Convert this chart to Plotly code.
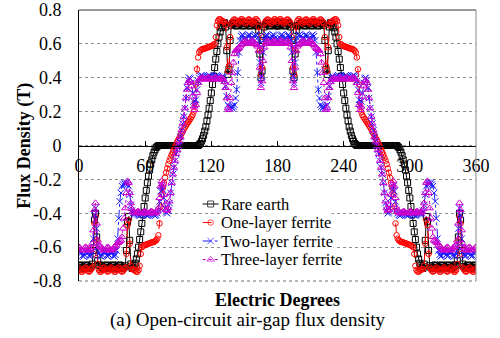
import plotly.graph_objects as go

# Sample grid in electrical degrees (1 degree steps)
degrees = list(range(0, 361))

rare_earth = [
    -0.71, -0.705, -0.71, -0.72, -0.725, -0.72, -0.71, -0.705, -0.71, -0.72,
    -0.725, -0.715, -0.70, -0.62, -0.44, -0.40, -0.54, -0.68, -0.71, -0.705,
    -0.71, -0.72, -0.725, -0.72, -0.71, -0.705, -0.71, -0.72, -0.725, -0.72,
    -0.71, -0.705, -0.71, -0.72, -0.725, -0.72, -0.71, -0.705, -0.71, -0.72,
    -0.725, -0.72, -0.71, -0.62, -0.45, -0.42, -0.56, -0.70, -0.725, -0.72,
    -0.71, -0.695, -0.67, -0.64, -0.60, -0.555, -0.51, -0.46, -0.41, -0.36,
    -0.31, -0.265, -0.22, -0.18, -0.145, -0.11, -0.085, -0.06, -0.04, -0.025,
    -0.012, -0.005, 0, 0, 0, 0, 0, 0, 0, 0,
    0, 0, 0, 0, 0, 0, 0, 0, 0, 0,
    0, 0, 0, 0, 0, 0, 0, 0, 0, 0,
    0, 0, 0, 0, 0, 0, 0, 0, 0, 0.005,
    0.012, 0.025, 0.04, 0.06, 0.085, 0.11, 0.145, 0.18, 0.22, 0.265,
    0.31, 0.36, 0.41, 0.46, 0.51, 0.555, 0.60, 0.64, 0.67, 0.695,
    0.71, 0.72, 0.725, 0.70, 0.56, 0.42, 0.45, 0.62, 0.71, 0.72,
    0.725, 0.72, 0.71, 0.705, 0.71, 0.72, 0.725, 0.72, 0.71, 0.705,
    0.71, 0.72, 0.725, 0.72, 0.71, 0.705, 0.71, 0.72, 0.725, 0.72,
    0.71, 0.705, 0.71, 0.68, 0.54, 0.40, 0.44, 0.62, 0.70, 0.715,
    0.725, 0.72, 0.71, 0.705, 0.71, 0.72, 0.725, 0.72, 0.71, 0.705,
    0.71, 0.705, 0.71, 0.72, 0.725, 0.72, 0.71, 0.705, 0.71, 0.72,
    0.725, 0.715, 0.70, 0.62, 0.44, 0.40, 0.54, 0.68, 0.71, 0.705,
    0.71, 0.72, 0.725, 0.72, 0.71, 0.705, 0.71, 0.72, 0.725, 0.72,
    0.71, 0.705, 0.71, 0.72, 0.725, 0.72, 0.71, 0.705, 0.71, 0.72,
    0.725, 0.72, 0.71, 0.62, 0.45, 0.42, 0.56, 0.70, 0.725, 0.72,
    0.71, 0.695, 0.67, 0.64, 0.60, 0.555, 0.51, 0.46, 0.41, 0.36,
    0.31, 0.265, 0.22, 0.18, 0.145, 0.11, 0.085, 0.06, 0.04, 0.025,
    0.012, 0.005, 0, 0, 0, 0, 0, 0, 0, 0,
    0, 0, 0, 0, 0, 0, 0, 0, 0, 0,
    0, 0, 0, 0, 0, 0, 0, 0, 0, 0,
    0, 0, 0, 0, 0, 0, 0, 0, 0, -0.005,
    -0.012, -0.025, -0.04, -0.06, -0.085, -0.11, -0.145, -0.18, -0.22, -0.265,
    -0.31, -0.36, -0.41, -0.46, -0.51, -0.555, -0.60, -0.64, -0.67, -0.695,
    -0.71, -0.72, -0.725, -0.70, -0.56, -0.42, -0.45, -0.62, -0.71, -0.72,
    -0.725, -0.72, -0.71, -0.705, -0.71, -0.72, -0.725, -0.72, -0.71, -0.705,
    -0.71, -0.72, -0.725, -0.72, -0.71, -0.705, -0.71, -0.72, -0.725, -0.72,
    -0.71, -0.705, -0.71, -0.68, -0.54, -0.40, -0.44, -0.62, -0.70, -0.715,
    -0.725, -0.72, -0.71, -0.705, -0.71, -0.72, -0.725, -0.72, -0.71, -0.705,
    -0.71,
]

one_layer = [
    -0.725, -0.735, -0.745, -0.745, -0.735, -0.725, -0.72, -0.73, -0.74, -0.745,
    -0.74, -0.73, -0.72, -0.64, -0.46, -0.42, -0.56, -0.70, -0.735, -0.745,
    -0.745, -0.735, -0.725, -0.72, -0.73, -0.74, -0.745, -0.74, -0.73, -0.72,
    -0.725, -0.735, -0.745, -0.745, -0.735, -0.725, -0.72, -0.73, -0.74, -0.745,
    -0.74, -0.73, -0.72, -0.64, -0.47, -0.44, -0.58, -0.71, -0.73, -0.73,
    -0.735, -0.74, -0.745, -0.745, -0.735, -0.71, -0.64, -0.60, -0.595, -0.59,
    -0.587, -0.585, -0.582, -0.58, -0.577, -0.575, -0.572, -0.57, -0.57, -0.565,
    -0.56, -0.55, -0.53, -0.46, -0.36, -0.29, -0.25, -0.22, -0.19, -0.16,
    -0.135, -0.11, -0.09, -0.072, -0.055, -0.04, -0.025, -0.01, 0.005, 0.02,
    0.033, 0.045, 0.06, 0.07, 0.082, 0.095, 0.107, 0.118, 0.128, 0.138,
    0.148, 0.158, 0.168, 0.18, 0.20, 0.25, 0.36, 0.45, 0.52, 0.55,
    0.56, 0.565, 0.57, 0.57, 0.572, 0.575, 0.577, 0.58, 0.582, 0.585,
    0.587, 0.59, 0.595, 0.60, 0.64, 0.71, 0.735, 0.745, 0.745, 0.74,
    0.735, 0.73, 0.73, 0.71, 0.58, 0.44, 0.47, 0.64, 0.72, 0.73,
    0.74, 0.745, 0.74, 0.73, 0.72, 0.725, 0.735, 0.745, 0.745, 0.735,
    0.725, 0.72, 0.73, 0.74, 0.745, 0.74, 0.73, 0.72, 0.725, 0.735,
    0.745, 0.745, 0.735, 0.70, 0.56, 0.42, 0.46, 0.64, 0.72, 0.73,
    0.74, 0.745, 0.74, 0.73, 0.72, 0.725, 0.735, 0.745, 0.745, 0.735,
    0.725, 0.735, 0.745, 0.745, 0.735, 0.725, 0.72, 0.73, 0.74, 0.745,
    0.74, 0.73, 0.72, 0.64, 0.46, 0.42, 0.56, 0.70, 0.735, 0.745,
    0.745, 0.735, 0.725, 0.72, 0.73, 0.74, 0.745, 0.74, 0.73, 0.72,
    0.725, 0.735, 0.745, 0.745, 0.735, 0.725, 0.72, 0.73, 0.74, 0.745,
    0.74, 0.73, 0.72, 0.64, 0.47, 0.44, 0.58, 0.71, 0.73, 0.73,
    0.735, 0.74, 0.745, 0.745, 0.735, 0.71, 0.64, 0.60, 0.595, 0.59,
    0.587, 0.585, 0.582, 0.58, 0.577, 0.575, 0.572, 0.57, 0.57, 0.565,
    0.56, 0.55, 0.52, 0.45, 0.36, 0.25, 0.20, 0.18, 0.168, 0.158,
    0.148, 0.138, 0.128, 0.118, 0.107, 0.095, 0.082, 0.07, 0.06, 0.045,
    0.033, 0.02, 0.005, -0.01, -0.025, -0.04, -0.055, -0.072, -0.09, -0.11,
    -0.135, -0.16, -0.19, -0.22, -0.25, -0.29, -0.36, -0.46, -0.53, -0.55,
    -0.56, -0.565, -0.57, -0.57, -0.572, -0.575, -0.577, -0.58, -0.582, -0.585,
    -0.587, -0.59, -0.595, -0.60, -0.64, -0.71, -0.735, -0.745, -0.745, -0.74,
    -0.735, -0.73, -0.73, -0.71, -0.58, -0.44, -0.47, -0.64, -0.72, -0.73,
    -0.74, -0.745, -0.74, -0.73, -0.72, -0.725, -0.735, -0.745, -0.745, -0.735,
    -0.725, -0.72, -0.73, -0.74, -0.745, -0.74, -0.73, -0.72, -0.725, -0.735,
    -0.745, -0.745, -0.735, -0.70, -0.56, -0.42, -0.46, -0.64, -0.72, -0.73,
    -0.74, -0.745, -0.74, -0.73, -0.72, -0.725, -0.735, -0.745, -0.745, -0.735,
    -0.725,
]

two_layer = [
    -0.63, -0.625, -0.635, -0.65, -0.655, -0.645, -0.63, -0.625, -0.635, -0.65,
    -0.655, -0.645, -0.625, -0.55, -0.41, -0.37, -0.49, -0.60, -0.635, -0.65,
    -0.655, -0.645, -0.63, -0.625, -0.635, -0.65, -0.655, -0.645, -0.63, -0.625,
    -0.635, -0.65, -0.655, -0.645, -0.62, -0.55, -0.43, -0.33, -0.28, -0.24,
    -0.23, -0.22, -0.23, -0.22, -0.23, -0.24, -0.29, -0.35, -0.385, -0.40,
    -0.405, -0.40, -0.40, -0.405, -0.41, -0.415, -0.41, -0.405, -0.40, -0.40,
    -0.405, -0.41, -0.415, -0.41, -0.405, -0.40, -0.40, -0.405, -0.41, -0.415,
    -0.41, -0.40, -0.38, -0.33, -0.27, -0.24, -0.26, -0.31, -0.37, -0.395,
    -0.40, -0.385, -0.34, -0.28, -0.22, -0.17, -0.13, -0.09, -0.05, -0.025,
    0, 0.025, 0.05, 0.09, 0.13, 0.17, 0.22, 0.28, 0.34, 0.385,
    0.40, 0.395, 0.37, 0.31, 0.26, 0.24, 0.27, 0.33, 0.38, 0.40,
    0.41, 0.415, 0.41, 0.405, 0.40, 0.40, 0.405, 0.41, 0.415, 0.41,
    0.405, 0.40, 0.40, 0.405, 0.41, 0.415, 0.41, 0.405, 0.40, 0.40,
    0.405, 0.40, 0.385, 0.35, 0.29, 0.24, 0.23, 0.22, 0.23, 0.22,
    0.23, 0.24, 0.28, 0.33, 0.43, 0.55, 0.62, 0.645, 0.655, 0.65,
    0.635, 0.625, 0.63, 0.645, 0.655, 0.65, 0.635, 0.625, 0.63, 0.645,
    0.655, 0.65, 0.635, 0.60, 0.49, 0.37, 0.41, 0.55, 0.625, 0.645,
    0.655, 0.65, 0.635, 0.625, 0.63, 0.645, 0.655, 0.65, 0.635, 0.625,
    0.63, 0.625, 0.635, 0.65, 0.655, 0.645, 0.63, 0.625, 0.635, 0.65,
    0.655, 0.645, 0.625, 0.55, 0.41, 0.37, 0.49, 0.60, 0.635, 0.65,
    0.655, 0.645, 0.63, 0.625, 0.635, 0.65, 0.655, 0.645, 0.63, 0.625,
    0.635, 0.65, 0.655, 0.645, 0.62, 0.55, 0.43, 0.33, 0.28, 0.24,
    0.23, 0.22, 0.23, 0.22, 0.23, 0.24, 0.29, 0.35, 0.385, 0.40,
    0.405, 0.40, 0.40, 0.405, 0.41, 0.415, 0.41, 0.405, 0.40, 0.40,
    0.405, 0.41, 0.415, 0.41, 0.405, 0.40, 0.40, 0.405, 0.41, 0.415,
    0.41, 0.40, 0.38, 0.33, 0.27, 0.24, 0.26, 0.31, 0.37, 0.395,
    0.40, 0.385, 0.34, 0.28, 0.22, 0.17, 0.13, 0.09, 0.05, 0.025,
    0, -0.025, -0.05, -0.09, -0.13, -0.17, -0.22, -0.28, -0.34, -0.385,
    -0.40, -0.395, -0.37, -0.31, -0.26, -0.24, -0.27, -0.33, -0.38, -0.40,
    -0.41, -0.415, -0.41, -0.405, -0.40, -0.40, -0.405, -0.41, -0.415, -0.41,
    -0.405, -0.40, -0.40, -0.405, -0.41, -0.415, -0.41, -0.405, -0.40, -0.40,
    -0.405, -0.40, -0.385, -0.35, -0.29, -0.24, -0.23, -0.22, -0.23, -0.22,
    -0.23, -0.24, -0.28, -0.33, -0.43, -0.55, -0.62, -0.645, -0.655, -0.65,
    -0.635, -0.625, -0.63, -0.645, -0.655, -0.65, -0.635, -0.625, -0.63, -0.645,
    -0.655, -0.65, -0.635, -0.60, -0.49, -0.37, -0.41, -0.55, -0.625, -0.645,
    -0.655, -0.65, -0.635, -0.625, -0.63, -0.645, -0.655, -0.65, -0.635, -0.625,
    -0.63,
]

three_layer = [
    -0.60, -0.605, -0.615, -0.62, -0.615, -0.605, -0.60, -0.605, -0.615, -0.62,
    -0.61, -0.60, -0.58, -0.50, -0.38, -0.34, -0.46, -0.56, -0.585, -0.595,
    -0.60, -0.605, -0.615, -0.62, -0.615, -0.605, -0.60, -0.605, -0.615, -0.62,
    -0.615, -0.61, -0.60, -0.595, -0.585, -0.575, -0.57, -0.565, -0.56, -0.54,
    -0.49, -0.43, -0.37, -0.28, -0.21, -0.22, -0.28, -0.34, -0.375, -0.39,
    -0.395, -0.40, -0.395, -0.39, -0.39, -0.395, -0.40, -0.40, -0.395, -0.39,
    -0.39, -0.395, -0.40, -0.40, -0.395, -0.39, -0.39, -0.395, -0.40, -0.40,
    -0.395, -0.39, -0.37, -0.31, -0.24, -0.21, -0.23, -0.29, -0.35, -0.38,
    -0.385, -0.37, -0.33, -0.28, -0.22, -0.17, -0.13, -0.09, -0.05, -0.025,
    0, 0.025, 0.05, 0.09, 0.13, 0.17, 0.22, 0.28, 0.33, 0.37,
    0.385, 0.38, 0.35, 0.29, 0.23, 0.21, 0.24, 0.31, 0.37, 0.39,
    0.395, 0.40, 0.40, 0.395, 0.39, 0.39, 0.395, 0.40, 0.40, 0.395,
    0.39, 0.39, 0.395, 0.40, 0.40, 0.395, 0.39, 0.39, 0.395, 0.40,
    0.395, 0.39, 0.375, 0.34, 0.28, 0.22, 0.21, 0.28, 0.37, 0.43,
    0.49, 0.54, 0.56, 0.565, 0.57, 0.575, 0.585, 0.595, 0.60, 0.61,
    0.615, 0.62, 0.615, 0.605, 0.60, 0.605, 0.615, 0.62, 0.615, 0.605,
    0.60, 0.595, 0.585, 0.56, 0.46, 0.34, 0.38, 0.50, 0.58, 0.60,
    0.61, 0.62, 0.615, 0.605, 0.60, 0.605, 0.615, 0.62, 0.615, 0.605,
    0.60, 0.605, 0.615, 0.62, 0.615, 0.605, 0.60, 0.605, 0.615, 0.62,
    0.61, 0.60, 0.58, 0.50, 0.38, 0.34, 0.46, 0.56, 0.585, 0.595,
    0.60, 0.605, 0.615, 0.62, 0.615, 0.605, 0.60, 0.605, 0.615, 0.62,
    0.615, 0.61, 0.60, 0.595, 0.585, 0.575, 0.57, 0.565, 0.56, 0.54,
    0.49, 0.43, 0.37, 0.28, 0.21, 0.22, 0.28, 0.34, 0.375, 0.39,
    0.395, 0.40, 0.395, 0.39, 0.39, 0.395, 0.40, 0.40, 0.395, 0.39,
    0.39, 0.395, 0.40, 0.40, 0.395, 0.39, 0.39, 0.395, 0.40, 0.40,
    0.395, 0.39, 0.37, 0.31, 0.24, 0.21, 0.23, 0.29, 0.35, 0.38,
    0.385, 0.37, 0.33, 0.28, 0.22, 0.17, 0.13, 0.09, 0.05, 0.025,
    0, -0.025, -0.05, -0.09, -0.13, -0.17, -0.22, -0.28, -0.33, -0.37,
    -0.385, -0.38, -0.35, -0.29, -0.23, -0.21, -0.24, -0.31, -0.37, -0.39,
    -0.395, -0.40, -0.40, -0.395, -0.39, -0.39, -0.395, -0.40, -0.40, -0.395,
    -0.39, -0.39, -0.395, -0.40, -0.40, -0.395, -0.39, -0.39, -0.395, -0.40,
    -0.395, -0.39, -0.375, -0.34, -0.28, -0.22, -0.21, -0.28, -0.37, -0.43,
    -0.49, -0.54, -0.56, -0.565, -0.57, -0.575, -0.585, -0.595, -0.60, -0.61,
    -0.615, -0.62, -0.615, -0.605, -0.60, -0.605, -0.615, -0.62, -0.615, -0.605,
    -0.60, -0.595, -0.585, -0.56, -0.46, -0.34, -0.38, -0.50, -0.58, -0.60,
    -0.61, -0.62, -0.615, -0.605, -0.60, -0.605, -0.615, -0.62, -0.615, -0.605,
    -0.60,
]

series_names = ["Rare earth", "One-layer ferrite", "Two-layer ferrite", "Three-layer ferrite"]

x_tick_vals = [0, 60, 120, 180, 240, 300, 360]
x_tick_text = ["0", "60", "120", "180", "240", "300", "360"]
y_tick_vals = [0.8, 0.6, 0.4, 0.2, 0, -0.2, -0.4, -0.6, -0.8]
y_tick_text = ["0.8", "0.6", "0.4", "0.2", "0", "-0.2", "-0.4", "-0.6", "-0.8"]

SERIF = "Liberation Serif, Times New Roman, serif"

styles = [
    dict(color="#000000", dash="solid", symbol="square-open", size=6),
    dict(color="#ff0000", dash="dash", symbol="circle-open", size=5.5),
    dict(color="#1a1aff", dash="dashdot", symbol="x-thin-open", size=6.5),
    dict(color="#cc00cc", dash="dot", symbol="triangle-up-open", size=6.5),
]

fig = go.Figure()

for name, values, st in zip(series_names,
                            [rare_earth, one_layer, two_layer, three_layer],
                            styles):
    fig.add_trace(go.Scatter(
        x=degrees, y=values, mode="lines+markers", name=name, showlegend=False,
        line=dict(color=st["color"], width=1, dash=st["dash"]),
        marker=dict(symbol=st["symbol"], size=st["size"], color=st["color"],
                    line=dict(color=st["color"], width=1)),
    ))

# Hand-placed legend: key glyphs on an overlay axis spanning the plot area
key_x = [0.3115, 0.3316, 0.3516]
row_y = [0.2841, 0.2159, 0.1476, 0.0793]
text_x = 0.3559

annotations = []
for name, st, ry in zip(series_names, styles, row_y):
    fig.add_trace(go.Scatter(
        x=key_x, y=[ry, ry, ry], xaxis="x2", yaxis="y2", mode="lines+markers",
        showlegend=False, hoverinfo="skip",
        line=dict(color=st["color"], width=1, dash=st["dash"]),
        marker=dict(symbol=st["symbol"], size=[0, st["size"], 0], color=st["color"],
                    line=dict(color=st["color"], width=1)),
    ))
    annotations.append(dict(
        text=name, x=text_x, y=ry, xref="paper", yref="paper",
        xanchor="left", yanchor="middle", showarrow=False,
        bgcolor="white", borderpad=0,
        font=dict(family=SERIF, size=16.5, color="black"),
    ))

annotations += [
    dict(text="<b>Electric Degrees</b>", x=0.5, y=-0.0683, xref="paper", yref="paper",
         xanchor="center", yanchor="middle", showarrow=False,
         font=dict(family=SERIF, size=18, color="black")),
    dict(text="(a) Open-circuit air-gap flux density", x=0.426, y=-0.1439,
         xref="paper", yref="paper", xanchor="center", yanchor="middle",
         showarrow=False, font=dict(family=SERIF, size=19, color="black")),
    dict(text="<b>Flux Density (T)</b>", x=-0.1378, y=0.5, xref="paper", yref="paper",
         xanchor="center", yanchor="middle", textangle=-90, showarrow=False,
         font=dict(family=SERIF, size=18, color="black")),
]

shapes = [
    # white patch behind the legend keys
    dict(type="rect", xref="paper", yref="paper", x0=0.300, x1=0.358, y0=0.045, y1=0.315,
         fillcolor="white", line=dict(width=0), layer="between"),
    # plot frame
    dict(type="line", xref="paper", yref="paper", x0=0, x1=1, y0=1, y1=1,
         line=dict(color="#333333", width=1)),
    dict(type="line", xref="paper", yref="paper", x0=1, x1=1, y0=0, y1=1,
         line=dict(color="#8c8c8c", width=1)),
    dict(type="line", xref="paper", yref="paper", x0=0, x1=1, y0=0, y1=0,
         line=dict(color="#6e6e6e", width=1, dash="dot")),
]

fig.update_layout(
    width=500, height=338,
    margin=dict(l=79, r=22, t=10, b=57),
    paper_bgcolor="white", plot_bgcolor="white",
    font=dict(family=SERIF, size=18, color="black"),
    showlegend=False,
    xaxis=dict(
        range=[0, 360], anchor="free", position=0.5,
        showgrid=False, zeroline=False,
        showline=True, linecolor="black", linewidth=1,
        ticks="inside", ticklen=5, tickwidth=1, tickcolor="black",
        tickvals=x_tick_vals, ticktext=x_tick_text,
        tickfont=dict(family=SERIF, size=18, color="black"),
        ticklabelstandoff=4,
    ),
    yaxis=dict(
        range=[-0.80001, 0.80001], automargin=False,
        showgrid=True, gridcolor="#8c8c8c", griddash="dot", gridwidth=1,
        zeroline=False, showline=True, linecolor="black", linewidth=1,
        ticks="", tickvals=y_tick_vals, ticktext=y_tick_text,
        tickfont=dict(family=SERIF, size=18, color="black"),
        ticklabelstandoff=13, ticklabeloverflow="allow",
    ),
    xaxis2=dict(overlaying="x", range=[0, 1], visible=False, anchor="y2"),
    yaxis2=dict(overlaying="y", range=[0, 1], visible=False, anchor="x2"),
    annotations=annotations,
    shapes=shapes,
)

fig.write_html("out.html")
